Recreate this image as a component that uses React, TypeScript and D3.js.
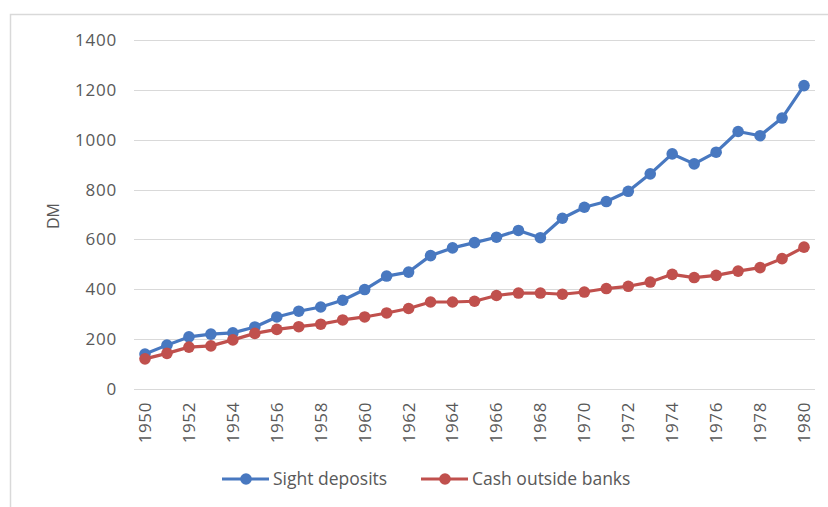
import { useEffect, useRef } from 'react';
import * as d3 from 'd3';

const YEARS = d3.range(1950, 1981).map(String);
const SIGHT_DEPOSITS = [
  140, 176, 209, 220, 225, 249, 289, 312, 329, 356,
  399, 453, 469, 535, 566, 587, 609, 636, 607, 685,
  729, 752, 793, 863, 943, 903, 950, 1033, 1016, 1087,
  1217
];
const CASH_OUTSIDE = [
  121, 143, 168, 173, 197, 223, 239, 250, 260, 277,
  289, 305, 323, 349, 349, 352, 375, 385, 385, 380,
  389, 403, 412, 429, 460, 447, 456, 473, 487, 523,
  569
];
const Y_TICKS = [0, 200, 400, 600, 800, 1000, 1200, 1400];

const SERIES = [
  { name: 'Sight deposits', values: SIGHT_DEPOSITS, color: '#4878C0' },
  { name: 'Cash outside banks', values: CASH_OUTSIDE, color: '#C0504D' }
];

const WIDTH = 828;
const HEIGHT = 507;
const FONT = 'Open Sans, Noto Sans, sans-serif';
const TEXT_COLOR = '#595959';

export default function App() {
  const svgRef = useRef<SVGSVGElement>(null);

  useEffect(() => {
    if (!svgRef.current) return;
    const svg = d3.select(svgRef.current);
    svg.selectAll('*').remove();

    const plot = { left: 134, right: 815, top: 40, bottom: 389 };

    // chart area frame
    svg.append('rect')
      .attr('x', 10.5)
      .attr('y', 14.5)
      .attr('width', 840)
      .attr('height', 520)
      .attr('fill', '#fff')
      .attr('stroke', '#d9d9d9')
      .attr('stroke-width', 1.5);

    const x = d3.scaleBand<string>()
      .domain(YEARS)
      .range([plot.left, plot.right]);
    const cx = (d: string) => (x(d) ?? 0) + x.bandwidth() / 2;

    const y = d3.scaleLinear()
      .domain([0, 1400])
      .range([plot.bottom, plot.top]);

    // gridlines
    svg.append('g')
      .selectAll('line')
      .data(Y_TICKS)
      .join('line')
      .attr('x1', plot.left)
      .attr('x2', plot.right)
      .attr('y1', d => Math.round(y(d)) + 0.5)
      .attr('y2', d => Math.round(y(d)) + 0.5)
      .attr('stroke', '#d9d9d9')
      .attr('stroke-width', 1);

    // y tick labels
    svg.append('g')
      .selectAll('text')
      .data(Y_TICKS)
      .join('text')
      .attr('x', 117)
      .attr('y', d => y(d))
      .attr('dy', '0.35em')
      .attr('text-anchor', 'end')
      .attr('font-family', FONT)
      .attr('font-size', 17)
      .attr('letter-spacing', 0.8)
      .attr('fill', TEXT_COLOR)
      .text(d => d);

    // y axis title
    svg.append('text')
      .attr('transform', `translate(59, 216) rotate(-90)`)
      .attr('text-anchor', 'middle')
      .attr('font-family', FONT)
      .attr('font-size', 16)
      .attr('fill', TEXT_COLOR)
      .text('DM');

    // x tick labels (every other year)
    svg.append('g')
      .selectAll('text')
      .data(YEARS.filter((_, i) => i % 2 === 0))
      .join('text')
      .attr('transform', d => `translate(${cx(d)}, 402) rotate(-90)`)
      .attr('dy', '0.35em')
      .attr('text-anchor', 'end')
      .attr('font-family', FONT)
      .attr('font-size', 17)
      .attr('letter-spacing', 0.6)
      .attr('fill', TEXT_COLOR)
      .text(d => d);

    const line = d3.line<number>()
      .x((_, i) => cx(YEARS[i]))
      .y(d => y(d));

    SERIES.forEach(s => {
      svg.append('path')
        .datum(s.values)
        .attr('d', line)
        .attr('fill', 'none')
        .attr('stroke', s.color)
        .attr('stroke-width', 3.2)
        .attr('stroke-linejoin', 'round');

      svg.append('g')
        .selectAll('circle')
        .data(s.values)
        .join('circle')
        .attr('cx', (_, i) => cx(YEARS[i]))
        .attr('cy', d => y(d))
        .attr('r', 5.8)
        .attr('fill', s.color);
    });

    // legend
    const legendY = 479;
    const legendX = [222, 421];
    SERIES.forEach((s, i) => {
      const g = svg.append('g').attr('transform', `translate(${legendX[i]}, ${legendY})`);
      g.append('line')
        .attr('x1', 0)
        .attr('x2', 47)
        .attr('stroke', s.color)
        .attr('stroke-width', 3.2);
      g.append('circle')
        .attr('cx', 24)
        .attr('r', 5.8)
        .attr('fill', s.color);
      g.append('text')
        .attr('x', 51)
        .attr('dy', '0.35em')
        .attr('font-family', FONT)
        .attr('font-size', 17.5)
        .attr('fill', TEXT_COLOR)
        .text(s.name);
    });
  }, []);

  return (
    <svg
      ref={svgRef}
      width={WIDTH}
      height={HEIGHT}
      style={{ position: 'absolute', left: 0, top: 0, display: 'block', background: '#fff' }}
    />
  );
}
